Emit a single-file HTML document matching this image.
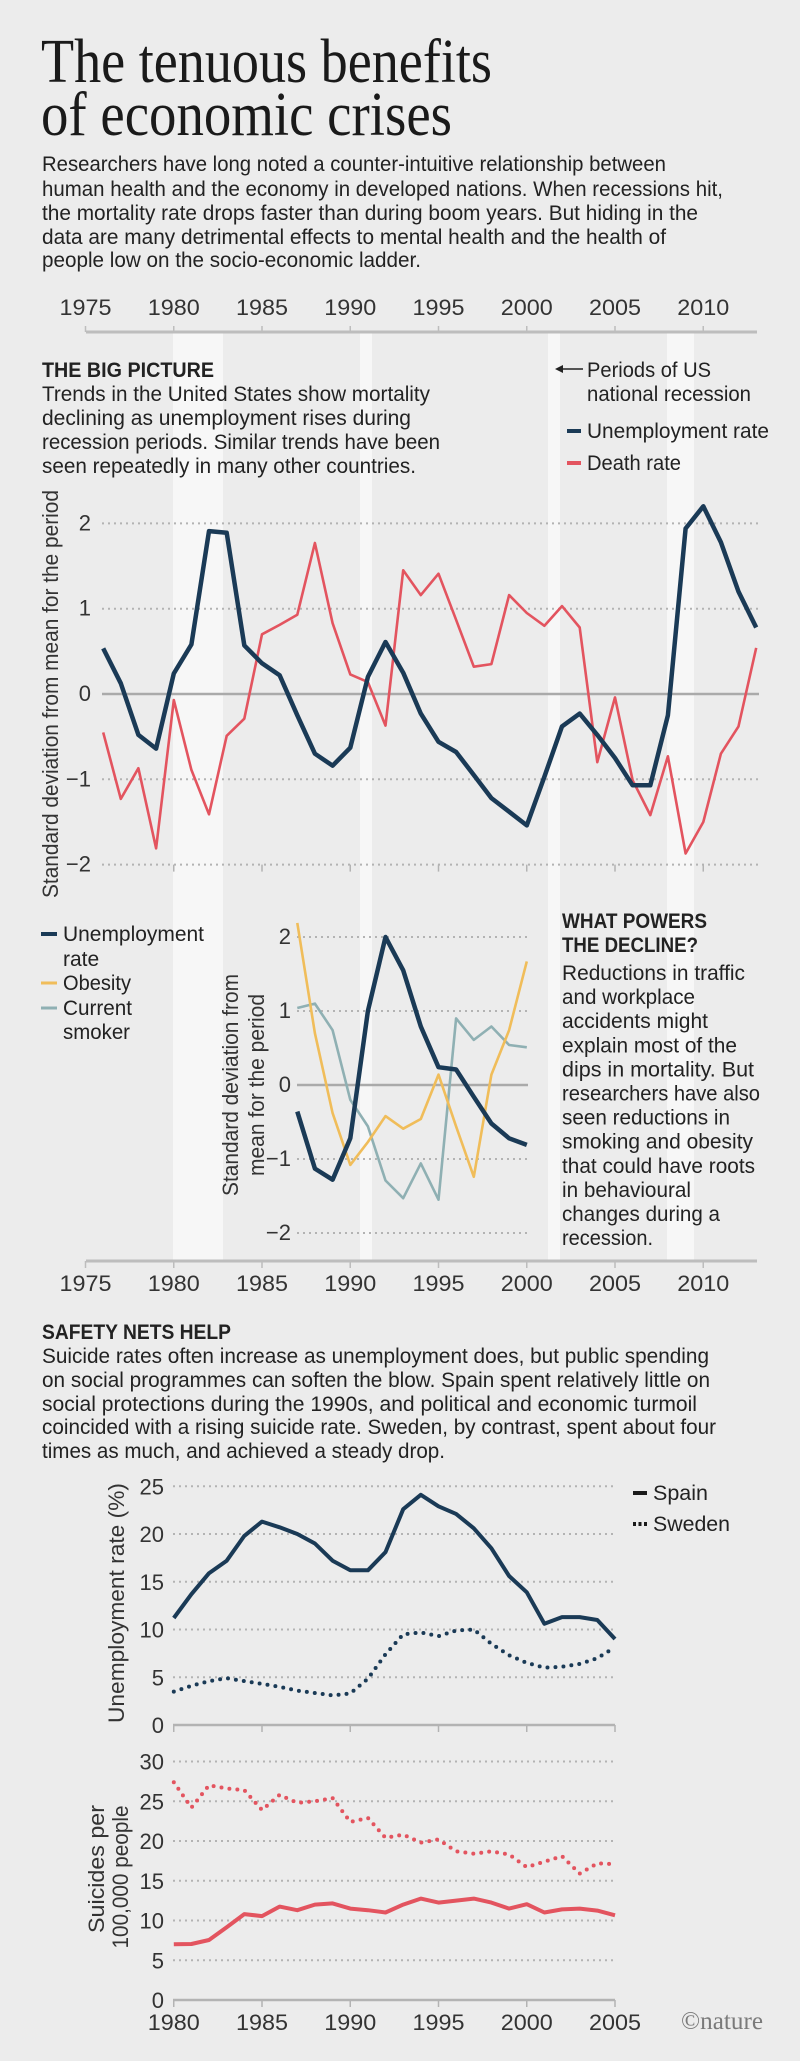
<!DOCTYPE html>
<html><head><meta charset="utf-8"><style>
html,body{margin:0;padding:0;background:#ececec;}
svg{display:block;}
text{font-family:"Liberation Sans Narrow","Liberation Sans",sans-serif;fill:#222;}
.t{font-family:"Liberation Serif",serif;font-size:62px;fill:#1a1a1a;}
.b{font-size:21px;}
.h{font-size:21px;font-weight:bold;}
.ax{font-size:22px;fill:#333;}
</style></head><body>
<svg id="s" width="800" height="2061" viewBox="0 0 800 2061" xmlns="http://www.w3.org/2000/svg">
<rect width="800" height="2061" fill="#ececec"/>
<rect x="173" y="332" width="50" height="929" fill="#f7f7f7"/>
<rect x="360" y="332" width="12" height="929" fill="#f7f7f7"/>
<rect x="548" y="332" width="12" height="929" fill="#f7f7f7"/>
<rect x="667" y="332" width="27" height="929" fill="#f7f7f7"/>

<text class="t" x="41" y="82" textLength="451" lengthAdjust="spacingAndGlyphs">The tenuous benefits</text>
<text class="t" x="41" y="135" textLength="411" lengthAdjust="spacingAndGlyphs">of economic crises</text>

<text class="b" x="42" y="171" textLength="624" lengthAdjust="spacingAndGlyphs">Researchers have long noted a counter-intuitive relationship between</text>
<text class="b" x="42" y="196" textLength="681" lengthAdjust="spacingAndGlyphs">human health and the economy in developed nations. When recessions hit,</text>
<text class="b" x="42" y="220" textLength="656" lengthAdjust="spacingAndGlyphs">the mortality rate drops faster than during boom years. But hiding in the</text>
<text class="b" x="42" y="244" textLength="624" lengthAdjust="spacingAndGlyphs">data are many detrimental effects to mental health and the health of</text>
<text class="b" x="42" y="267" textLength="379" lengthAdjust="spacingAndGlyphs">people low on the socio-economic ladder.</text>

<g id="topaxis"></g>

<text class="h" x="42" y="377" textLength="172" lengthAdjust="spacingAndGlyphs">THE BIG PICTURE</text>
<text class="b" x="42" y="401" textLength="388" lengthAdjust="spacingAndGlyphs">Trends in the United States show mortality</text>
<text class="b" x="42" y="425" textLength="369" lengthAdjust="spacingAndGlyphs">declining as unemployment rises during</text>
<text class="b" x="42" y="449" textLength="398" lengthAdjust="spacingAndGlyphs">recession periods. Similar trends have been</text>
<text class="b" x="42" y="473" textLength="374" lengthAdjust="spacingAndGlyphs">seen repeatedly in many other countries.</text>

<path d="M583 369 L560 369" stroke="#222" stroke-width="1.5"/>
<path d="M555 369 L563 365 L563 373 Z" fill="#222"/>
<text class="b" x="587" y="377" textLength="124" lengthAdjust="spacingAndGlyphs">Periods of US</text>
<text class="b" x="587" y="401" textLength="164" lengthAdjust="spacingAndGlyphs">national recession</text>
<line x1="567" y1="431" x2="581" y2="431" stroke="#1a3a56" stroke-width="4"/>
<text class="b" x="587" y="438" textLength="182" lengthAdjust="spacingAndGlyphs">Unemployment rate</text>
<line x1="567" y1="463" x2="581" y2="463" stroke="#e3545f" stroke-width="4"/>
<text class="b" x="587" y="470" textLength="94" lengthAdjust="spacingAndGlyphs">Death rate</text>

<text class="ax" transform="translate(58,694) rotate(-90)" text-anchor="middle" font-size="20" textLength="408" lengthAdjust="spacingAndGlyphs">Standard deviation from mean for the period</text>

<g id="main"></g>

<line x1="41" y1="934" x2="57" y2="934" stroke="#1a3a56" stroke-width="4"/>
<text class="b" x="63" y="941" textLength="141" lengthAdjust="spacingAndGlyphs">Unemployment</text>
<text class="b" x="63" y="966">rate</text>
<line x1="41" y1="983" x2="57" y2="983" stroke="#f0bd5a" stroke-width="3"/>
<text class="b" x="63" y="990" textLength="68" lengthAdjust="spacingAndGlyphs">Obesity</text>
<line x1="41" y1="1008" x2="57" y2="1008" stroke="#8fb0b3" stroke-width="3"/>
<text class="b" x="63" y="1015" textLength="69" lengthAdjust="spacingAndGlyphs">Current</text>
<text class="b" x="63" y="1039" textLength="67" lengthAdjust="spacingAndGlyphs">smoker</text>

<text class="ax" transform="translate(238,1085) rotate(-90)" text-anchor="middle" font-size="20" textLength="222" lengthAdjust="spacingAndGlyphs">Standard deviation from</text>
<text class="ax" transform="translate(264,1085) rotate(-90)" text-anchor="middle" font-size="20" textLength="182" lengthAdjust="spacingAndGlyphs">mean for the period</text>

<g id="inner"></g>

<text class="h" x="562" y="928" textLength="145" lengthAdjust="spacingAndGlyphs">WHAT POWERS</text>
<text class="h" x="562" y="952" textLength="136" lengthAdjust="spacingAndGlyphs">THE DECLINE?</text>
<g id="wp"></g>

<g id="botaxis"></g>

<text class="h" x="42" y="1339" textLength="189" lengthAdjust="spacingAndGlyphs">SAFETY NETS HELP</text>
<text class="b" x="42" y="1363" textLength="667" lengthAdjust="spacingAndGlyphs">Suicide rates often increase as unemployment does, but public spending</text>
<text class="b" x="42" y="1387" textLength="668" lengthAdjust="spacingAndGlyphs">on social programmes can soften the blow. Spain spent relatively little on</text>
<text class="b" x="42" y="1411" textLength="655" lengthAdjust="spacingAndGlyphs">social protections during the 1990s, and political and economic turmoil</text>
<text class="b" x="42" y="1434" textLength="674" lengthAdjust="spacingAndGlyphs">coincided with a rising suicide rate. Sweden, by contrast, spent about four</text>
<text class="b" x="42" y="1458" textLength="403" lengthAdjust="spacingAndGlyphs">times as much, and achieved a steady drop.</text>

<text class="ax" transform="translate(124,1603) rotate(-90)" text-anchor="middle" font-size="20" textLength="240" lengthAdjust="spacingAndGlyphs">Unemployment rate (%)</text>
<text class="ax" transform="translate(104,1869) rotate(-90)" text-anchor="middle" font-size="20" textLength="128" lengthAdjust="spacingAndGlyphs">Suicides per</text>
<text class="ax" transform="translate(128,1877) rotate(-90)" text-anchor="middle" font-size="20" textLength="143" lengthAdjust="spacingAndGlyphs">100,000 people</text>

<line x1="633" y1="1493" x2="647" y2="1493" stroke="#1a1a1a" stroke-width="4"/>
<text class="b" x="653" y="1500" textLength="55" lengthAdjust="spacingAndGlyphs">Spain</text>
<line x1="633" y1="1524" x2="647" y2="1524" stroke="#1a1a1a" stroke-width="4" stroke-dasharray="3 2.5"/>
<text class="b" x="653" y="1531" textLength="77" lengthAdjust="spacingAndGlyphs">Sweden</text>

<g id="bottom"></g>
<text x="681" y="2029" font-size="25" style="fill:#7a7a7a;font-family:'Liberation Serif',serif" textLength="82" lengthAdjust="spacingAndGlyphs">©nature</text>
</svg>
<script>
var NS="http://www.w3.org/2000/svg";
function X(y){return 85.5+(y-1975)*17.65;}
function el(p,tag,a,txt){var e=document.createElementNS(NS,tag);for(var k in a)e.setAttribute(k,a[k]);if(txt!==undefined)e.textContent=txt;document.getElementById(p).appendChild(e);return e;}
function line(p,x1,y1,x2,y2,st,w,extra){var a={x1:x1,y1:y1,x2:x2,y2:y2,stroke:st,"stroke-width":w};for(var k in extra)a[k]=extra[k];return el(p,"line",a);}
function series(p,y0,data,Y,col,w,dot){var pts=data.map(function(v,i){return X(y0+i).toFixed(1)+","+Y(v).toFixed(1);}).join(" ");
 var a={points:pts,fill:"none",stroke:col,"stroke-width":w,"stroke-linejoin":"round"};
 if(dot){a["stroke-dasharray"]="0 8";a["stroke-linecap"]="round";}
 el(p,"polyline",a);}
line("topaxis",86,332,757,332,"#bdbdbd",3);
for(var y=1975;y<=2010;y+=5){line("topaxis",X(y),326,X(y),332,"#bdbdbd",1.5);
 el("topaxis","text",{x:X(y),y:315,"text-anchor":"middle","class":"ax",textLength:52,lengthAdjust:"spacingAndGlyphs"},""+y);}
var MY=function(v){return 694-85.3*v;};
[2,1,-1,-2].forEach(function(v){line("main",102,MY(v),759,MY(v),"#b3b3b3",2,{"stroke-dasharray":"2 4"});});
line("main",102,MY(0),759,MY(0),"#aaaaaa",2.5);
["2","1","0","\u22121","\u22122"].forEach(function(t,i){el("main","text",{x:91,y:MY(2-i)+7,"text-anchor":"end","class":"ax"},t);});
for(var y=1980;y<=2010;y+=5)line("main",X(y),MY(-2),X(y),MY(-2)+7,"#b3b3b3",1.5);
var une=[0.535,0.125,-0.48,-0.64,0.24,0.58,1.91,1.89,0.57,0.36,0.22,-0.25,-0.7,-0.84,-0.63,0.2,0.61,0.25,-0.23,-0.56,-0.68,-0.95,-1.22,-1.38,-1.54,-0.97,-0.38,-0.23,-0.48,-0.75,-1.07,-1.07,-0.25,1.94,2.2,1.78,1.2,0.78];
var dr=[-0.45,-1.23,-0.87,-1.81,-0.07,-0.89,-1.41,-0.49,-0.29,0.70,0.81,0.93,1.77,0.83,0.23,0.14,-0.37,1.45,1.16,1.41,0.87,0.32,0.35,1.16,0.95,0.80,1.03,0.78,-0.80,-0.04,-1.01,-1.42,-0.73,-1.87,-1.50,-0.70,-0.38,0.54];
series("main",1976,dr,MY,"#e3545f",2.6);
series("main",1976,une,MY,"#1a3a56",4.5);
var IY=function(v){return 1085-74*v;};
[2,1,-1,-2].forEach(function(v){line("inner",297,IY(v),528,IY(v),"#b3b3b3",2,{"stroke-dasharray":"2 4"});});
line("inner",297,IY(0),528,IY(0),"#aaaaaa",2.5);
["2","1","0","\u22121","\u22122"].forEach(function(t,i){el("inner","text",{x:291,y:IY(2-i)+7,"text-anchor":"end","class":"ax"},t);});
series("inner",1987,[1.04,1.10,0.74,-0.2,-0.56,-1.29,-1.53,-1.06,-1.55,0.9,0.61,0.79,0.54,0.51],IY,"#8fb0b3",2.6);
series("inner",1987,[2.19,0.7,-0.38,-1.08,-0.77,-0.42,-0.59,-0.46,0.14,-0.56,-1.24,0.14,0.74,1.67],IY,"#f0bd5a",2.6);
series("inner",1987,[-0.36,-1.13,-1.28,-0.72,1.0,2.0,1.55,0.79,0.24,0.21,-0.16,-0.52,-0.72,-0.81],IY,"#1a3a56",4.5);
var wp=[["Reductions in traffic",183],["and workplace",133],["accidents might",146],["explain most of the",175],["dips in mortality. But",192],["researchers have also",198],["seen reductions in",168],["smoking and obesity",191],["that could have roots",193],["in behavioural",129],["changes during a",158],["recession.",91]];
wp.forEach(function(a,i){el("wp","text",{x:562,y:980+i*24.1,"class":"b",textLength:a[1],lengthAdjust:"spacingAndGlyphs"},a[0]);});
line("botaxis",86,1261,757,1261,"#bdbdbd",3);
for(var y=1975;y<=2010;y+=5){line("botaxis",X(y),1261,X(y),1268,"#bdbdbd",1.5);
 el("botaxis","text",{x:X(y),y:1291,"text-anchor":"middle","class":"ax",textLength:52,lengthAdjust:"spacingAndGlyphs"},""+y);}
var UY=function(v){return 1725-9.55*v;};
[25,20,15,10,5].forEach(function(v){line("bottom",173,UY(v),615,UY(v),"#b3b3b3",2,{"stroke-dasharray":"2 4"});});
[25,20,15,10,5,0].forEach(function(v){el("bottom","text",{x:164,y:UY(v)+8,"text-anchor":"end","class":"ax"},""+v);});
line("bottom",173,UY(0),615,UY(0),"#b3b3b3",2.5);
for(var y=1980;y<=2005;y+=5)line("bottom",X(y),UY(0),X(y),UY(0)+7,"#b3b3b3",1.5);
series("bottom",1980,[3.5,4.1,4.6,4.9,4.6,4.3,4.0,3.6,3.35,3.1,3.3,4.85,7.4,9.5,9.7,9.3,9.9,10.0,8.5,7.3,6.5,6.0,6.1,6.4,7.0,8.15],UY,"#1a3a56",4,true);
series("bottom",1980,[11.2,13.7,15.9,17.2,19.8,21.3,20.7,20.0,19.0,17.2,16.2,16.2,18.1,22.6,24.1,22.9,22.1,20.6,18.5,15.6,13.9,10.6,11.3,11.3,11.0,9.0],UY,"#1a3a56",4);
var SY=function(v){return 2000-7.95*v;};
[30,25,20,15,10,5].forEach(function(v){line("bottom",173,SY(v),615,SY(v),"#b3b3b3",2,{"stroke-dasharray":"2 4"});});
[30,25,20,15,10,5,0].forEach(function(v){el("bottom","text",{x:164,y:SY(v)+8,"text-anchor":"end","class":"ax"},""+v);});
line("bottom",173,SY(0),615,SY(0),"#b3b3b3",2.5);
for(var y=1980;y<=2005;y+=5){line("bottom",X(y),SY(0),X(y),SY(0)+7,"#b3b3b3",1.5);
 el("bottom","text",{x:X(y),y:2030,"text-anchor":"middle","class":"ax",textLength:52,lengthAdjust:"spacingAndGlyphs"},""+y);}
series("bottom",1980,[27.4,24.2,27.0,26.6,26.4,23.9,25.8,24.8,25.0,25.4,22.4,22.9,20.4,20.8,19.8,20.2,18.7,18.4,18.7,18.3,16.7,17.4,18.1,15.9,17.2,17.1],SY,"#e3545f",4,true);
series("bottom",1980,[7.0,7.05,7.55,9.15,10.8,10.55,11.75,11.3,12.0,12.15,11.5,11.3,11.0,12.0,12.75,12.25,12.5,12.75,12.25,11.5,12.05,11.0,11.4,11.5,11.25,10.65],SY,"#e3545f",4);
</script>
</body></html>
